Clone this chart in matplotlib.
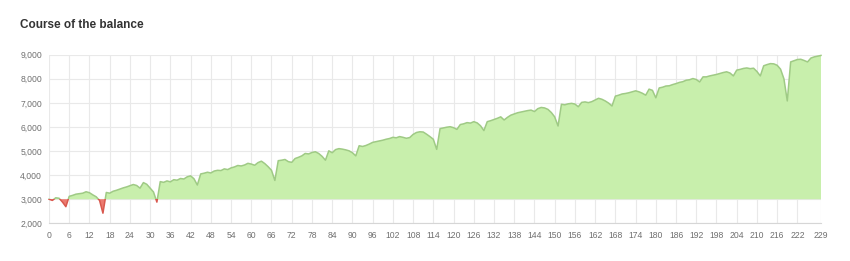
import numpy as np
import matplotlib
matplotlib.use("Agg")
import matplotlib.pyplot as plt
from matplotlib.patches import Rectangle

# balance after each trade
balance = [
    3000, 2950, 3060, 3040, 2880, 2690, 3120, 3160, 3210, 3230,
    3250, 3310, 3270, 3180, 3100, 2950, 2420, 3280, 3250, 3330,
    3370, 3420, 3470, 3510, 3560, 3610, 3570, 3460, 3690, 3620,
    3460, 3300, 2880, 3730, 3700, 3760, 3720, 3810, 3790, 3860,
    3840, 3930, 3970, 3850, 3590, 4050, 4080, 4120, 4090, 4170,
    4200, 4190, 4260, 4230, 4300, 4340, 4400, 4380, 4420, 4490,
    4460, 4410, 4520, 4580, 4480, 4350, 4200, 3780, 4600, 4620,
    4650, 4560, 4530, 4690, 4740, 4800, 4900, 4880, 4940, 4970,
    4900, 4780, 4620, 5010, 4930, 5060, 5100, 5080, 5050, 5010,
    4930, 4800, 5220, 5190, 5230, 5290, 5360, 5390, 5420, 5450,
    5490, 5520, 5570, 5550, 5600, 5570, 5530, 5560, 5690, 5770,
    5800, 5790, 5700, 5600, 5490, 5070, 5930, 5960, 5990, 6010,
    5970, 5900, 6100, 6130, 6180, 6160, 6220, 6170, 6050, 5850,
    6220, 6260, 6310, 6360, 6420, 6290, 6400, 6490, 6540, 6590,
    6620, 6650, 6680, 6700, 6640, 6760, 6810, 6790, 6730, 6600,
    6420, 6040, 6940, 6920, 6960, 6980, 6950, 6840, 7020, 7040,
    7010, 7050, 7120, 7190, 7150, 7080, 6990, 6870, 7280, 7320,
    7370, 7390, 7420, 7460, 7500, 7460, 7400, 7320, 7570, 7520,
    7210, 7620, 7650, 7700, 7710, 7760, 7800, 7850, 7880, 7940,
    7960, 8010, 7970, 7870, 8080, 8080, 8120, 8150, 8180, 8220,
    8260, 8290, 8240, 8120, 8360, 8390, 8430, 8450, 8420, 8440,
    8300, 8120, 8540, 8590, 8630, 8620, 8560, 8400, 8000, 7080,
    8700, 8750, 8800, 8810, 8760, 8700, 8860, 8910, 8940, 8970,
]
start_balance = 3000
x_ticks = list(range(0, 223, 6)) + [229]
y_ticks = [2000, 3000, 4000, 5000, 6000, 7000, 8000, 9000]

trades = np.arange(len(balance))
bal = np.array(balance, dtype=float)

fig = plt.figure(figsize=(8.5, 2.61), dpi=100)
ax = fig.add_axes([49 / 850, 37.7 / 261, 772 / 850, 168.6 / 261])

ax.fill_between(trades, start_balance, bal, where=bal >= start_balance,
                interpolate=True, color="#c8efac", linewidth=0, zorder=2)
ax.fill_between(trades, start_balance, bal, where=bal < start_balance,
                interpolate=True, color="#ec7a70", linewidth=0, zorder=2)

# line: green above the start balance, red below it
up, = ax.plot(trades, bal, color="#9fca85", linewidth=1.1, zorder=3)
down, = ax.plot(trades, bal, color="#d9584e", linewidth=1.1, zorder=3)
up.set_clip_path(Rectangle((-10, start_balance), 260, 7000, transform=ax.transData))
down.set_clip_path(Rectangle((-10, 0), 260, start_balance, transform=ax.transData))

ax.set_xlim(0, 229)
ax.set_ylim(2000, 9000)
ax.set_xticks(x_ticks)
ax.set_yticks(y_ticks)
ax.set_yticklabels([f"{v:,}" for v in y_ticks])

ax.grid(True, color="#e9e9e9", linewidth=0.8, zorder=0)
ax.set_axisbelow(True)
for s in ["top", "right", "left"]:
    ax.spines[s].set_visible(False)
ax.spines["bottom"].set_color("#d6d6d6")
ax.spines["bottom"].set_linewidth(0.8)
ax.tick_params(axis="both", length=0, labelsize=6.2, labelcolor="#707070")
ax.tick_params(axis="x", pad=5.5)
ax.tick_params(axis="y", pad=5)
for lab in ax.get_xticklabels() + ax.get_yticklabels():
    lab.set_fontfamily("Liberation Sans")

fig.text(20 / 850, 1 - 25 / 261, "Course of the balance", fontsize=8.5,
         fontweight="bold", color="#333333", family="Liberation Sans",
         ha="left", va="center")

fig.savefig("out.png", dpi=100, facecolor="white")
